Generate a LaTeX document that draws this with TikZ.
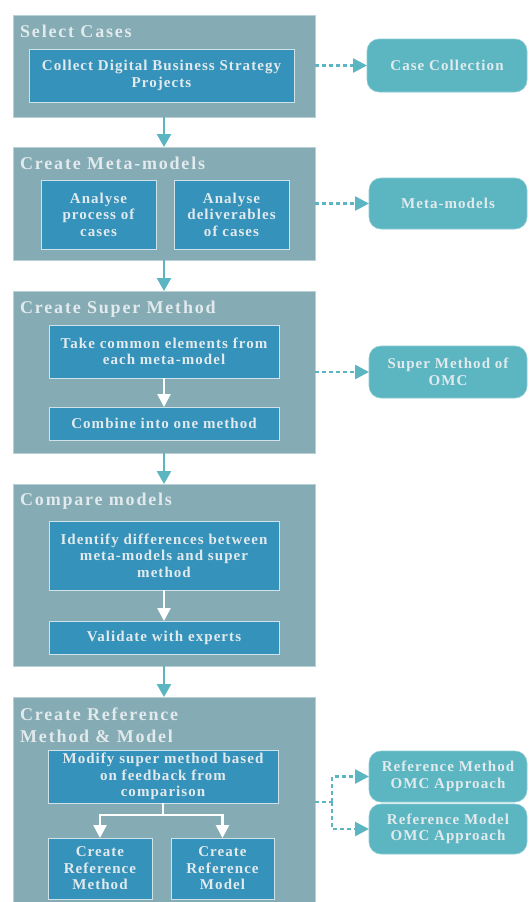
\documentclass[tikz,border=0pt]{standalone}
\usepackage{fontspec}
\setmainfont{Liberation Serif}
\newfontfamily\ttlfont{Liberation Serif}[LetterSpace=10]
\newfontfamily\boxfont{Liberation Serif}[LetterSpace=7]
\usetikzlibrary{arrows.meta}

\definecolor{grpfill}{HTML}{85ABB4}
\definecolor{grpedge}{HTML}{B9D0D5}
\definecolor{stepfill}{HTML}{3592BA}
\definecolor{stepedge}{HTML}{CFE2EA}
\definecolor{outfill}{HTML}{5BB6C1}
\definecolor{txt}{HTML}{E2EAED}

\tikzset{
  grp/.style={draw=grpedge, line width=0.8pt, fill=grpfill, inner sep=0pt, outer sep=0pt},
  grptitle/.style={anchor=base west, inner sep=0pt, text=txt, align=left,
    font=\ttlfont\fontsize{18}{22}\selectfont\bfseries},
  stepbox/.style={draw=stepedge, line width=1pt, fill=stepfill, text=txt, align=center,
    inner sep=0pt, outer sep=0pt, font=\boxfont\fontsize{15}{16.5}\selectfont\bfseries},
  outbox/.style={fill=outfill, draw=outfill!70!white, line width=0.6pt, rounded corners=12pt,
    text=txt, align=center, inner sep=0pt, outer sep=0pt,
    font=\boxfont\fontsize{15}{16.5}\selectfont\bfseries},
  flow/.style={draw=outfill, line width=2.6pt, -{Triangle[width=14pt,length=13pt]}},
  inflow/.style={draw=white, line width=2.6pt, -{Triangle[width=13pt,length=13pt]}},
  inline/.style={draw=white, line width=2.6pt},
  dotflow/.style={draw=outfill, line width=2.6pt, dash pattern=on 4pt off 3pt,
    -{Triangle[width=14pt,length=14pt]}},
  dotline/.style={draw=outfill, line width=2.6pt, dash pattern=on 4pt off 3pt},
}

\begin{document}
\begin{tikzpicture}[x=1pt, y=-1pt]
  \useasboundingbox (0,0) rectangle (528,902);
  \fill[white] (0,0) rectangle (528,902);
  \clip (0,0) rectangle (528,902);

  % phase groups
  \node[grp, minimum width=302pt, minimum height=102pt] (g1) at (164,66) {};
  \node[grp, minimum width=302pt, minimum height=113pt] (g2) at (164,203.5) {};
  \node[grp, minimum width=302pt, minimum height=162pt] (g3) at (164,372) {};
  \node[grp, minimum width=302pt, minimum height=182pt] (g4) at (164,575) {};
  \node[grp, minimum width=302pt, minimum height=225pt] (g5) at (164,809.5) {};

  % phase titles (a two-line title sits on its last baseline)
  \node[grptitle] (t1) at (20,37) {Select Cases};
  \node[grptitle] (t2) at (20,169) {Create Meta-models};
  \node[grptitle] (t3) at (20,313) {Create Super Method};
  \node[grptitle] (t4) at (20,505) {Compare models};
  \node[grptitle] (t5) at (20,742) {Create Reference\\Method \& Model};

  % activities
  \node[stepbox, minimum width=265pt, minimum height=53pt] (a1) at (161.5,75.5)
    {Collect Digital Business Strategy\\Projects};
  \node[stepbox, minimum width=115pt, minimum height=69pt] (a2) at (98.5,214.5)
    {Analyse\\process of\\cases};
  \node[stepbox, minimum width=115pt, minimum height=69pt] (a3) at (231.5,214.5)
    {Analyse\\deliverables\\of cases};
  \node[stepbox, minimum width=230pt, minimum height=53pt] (a4) at (164,351.5)
    {Take common elements from\\each meta-model};
  \node[stepbox, minimum width=230pt, minimum height=33pt] (a5) at (164,423.5)
    {Combine into one method};
  \node[stepbox, minimum width=230pt, minimum height=69pt] (a6) at (164,555.5)
    {Identify differences between\\meta-models and super\\method};
  \node[stepbox, minimum width=230pt, minimum height=33pt] (a7) at (164,637.5)
    {Validate with experts};
  \node[stepbox, minimum width=230pt, minimum height=53pt] (a8) at (163,776.5)
    {Modify super method based\\on feedback from\\comparison};
  \node[stepbox, minimum width=104pt, minimum height=61pt] (a9) at (100,868.5)
    {Create\\Reference\\Method};
  \node[stepbox, minimum width=103pt, minimum height=61pt] (a10) at (222.5,868.5)
    {Create\\Reference\\Model};

  % deliverables
  \node[outbox, minimum width=160pt, minimum height=53pt] (d1) at (447,65.5) {Case Collection};
  \node[outbox, minimum width=158pt, minimum height=51pt] (d2) at (448,203.5) {Meta-models};
  \node[outbox, minimum width=158pt, minimum height=52pt] (d3) at (448,372) {Super Method of\\OMC};
  \node[outbox, minimum width=158pt, minimum height=51pt] (d4) at (448,776.5) {Reference Method\\OMC Approach};
  \node[outbox, minimum width=158pt, minimum height=50pt] (d5) at (448,829) {Reference Model\\OMC Approach};

  % phase flow
  \draw[flow] (g1.south) -- (g2.north);
  \draw[flow] (g2.south) -- (g3.north);
  \draw[flow] (g3.south) -- (g4.north);
  \draw[flow] (g4.south) -- (g5.north);

  % activity flow
  \draw[inflow] (a4.south) -- (a5.north);
  \draw[inflow] (a6.south) -- (a7.north);
  \coordinate (jn) at (163,815);
  \draw[inline] (a8.south) -- (jn);
  \draw[inflow] (jn) -| (a9.north);
  \draw[inflow] (jn) -| (a10.north);

  % deliverable links
  \draw[dotflow] (g1.east |- d1.west) -- (d1.west);
  \draw[dotflow] (g2.east |- d2.west) -- (d2.west);
  \draw[dotflow] (g3.east |- d3.west) -- (d3.west);
  \coordinate (sp) at (332,802);
  \draw[dotline] (g5.east |- sp) -- (sp);
  \draw[dotflow] (sp) |- (d4.west);
  \draw[dotflow] (sp) |- (d5.west);
\end{tikzpicture}
\end{document}
